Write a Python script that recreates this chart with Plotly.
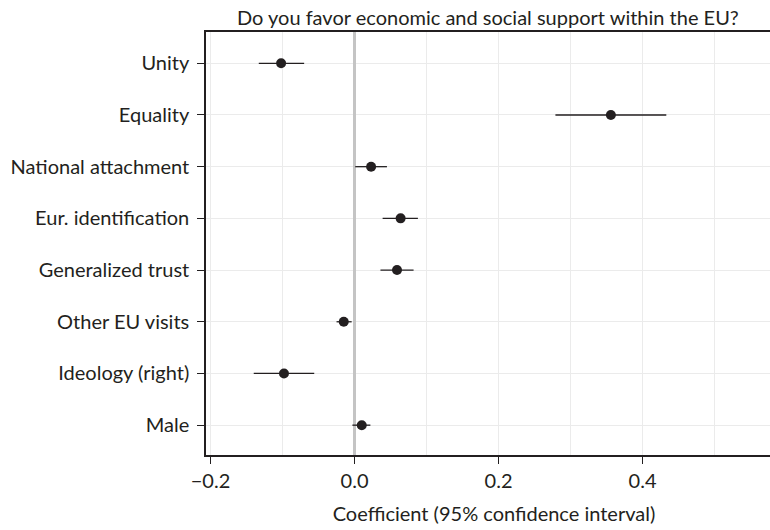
import plotly.graph_objects as go

categories = ["Unity", "Equality", "National attachment", "Eur. identification",
              "Generalized trust", "Other EU visits", "Ideology (right)", "Male"]
coef = [-0.102, 0.356, 0.023, 0.064, 0.059, -0.015, -0.098, 0.010]
ci_low = [-0.133, 0.279, 0.001, 0.039, 0.036, -0.025, -0.140, -0.003]
ci_high = [-0.070, 0.433, 0.045, 0.088, 0.082, -0.004, -0.056, 0.022]

x_ticks = [-0.2, 0.0, 0.2, 0.4]
x_tick_text = ["\u22120.2", "0.0", "0.2", "0.4"]

n = len(categories)
ypos = [n - 1 - i for i in range(n)]
err_plus = [h - c for h, c in zip(ci_high, coef)]
err_minus = [c - l for c, l in zip(coef, ci_low)]

ink = "#231f20"
FONT = "Lato"
FS = 20

fig = go.Figure()
fig.add_trace(go.Scatter(
    x=coef, y=ypos, mode="markers",
    marker=dict(size=10, color=ink),
    error_x=dict(type="data", symmetric=False, array=err_plus, arrayminus=err_minus,
                 color=ink, thickness=1.3, width=0),
    showlegend=False,
))

fig.update_layout(
    width=782, height=530,
    margin=dict(l=206, r=0, t=32, b=75),
    paper_bgcolor="white", plot_bgcolor="white",
    font=dict(family=FONT, size=FS, color=ink),
    xaxis=dict(
        range=[-0.2063, 0.5937],
        tickvals=x_ticks, ticktext=x_tick_text,
        ticks="outside", ticklen=7, tickwidth=1.3, tickcolor=ink,
        showgrid=True, gridcolor="#ebebeb", gridwidth=1,
        minor=dict(dtick=0.1, tick0=0, showgrid=True, gridcolor="#ebebeb", gridwidth=1),
        showline=True, linecolor=ink, linewidth=1.5, mirror=True,
        zeroline=True, zerolinecolor="#c4c4c4", zerolinewidth=3,
        automargin=False,
        title=dict(text="Coefficient (95% confidence interval)", standoff=16,
                   font=dict(family=FONT, size=FS, color=ink)),
        tickfont=dict(family=FONT, size=FS, color=ink),
    ),
    yaxis=dict(
        range=[-0.577, 7.605],
        tickvals=ypos, ticktext=categories,
        ticks="outside", ticklen=7, tickwidth=1.3, tickcolor=ink,
        ticklabelstandoff=4,
        showgrid=True, gridcolor="#ebebeb", gridwidth=1,
        showline=True, linecolor=ink, linewidth=1.5,
        zeroline=False, automargin=False,
        tickfont=dict(family=FONT, size=FS, color=ink),
    ),
    annotations=[dict(
        text="Do you favor economic and social support within the EU?",
        xref="x", yref="paper", x=0.186, y=1, xanchor="center", yanchor="bottom",
        yshift=1, showarrow=False, font=dict(family=FONT, size=FS, color=ink),
    )],
)

fig.write_html("out.html", config={"displayModeBar": False},
               post_script="document.body.style.margin='0';document.body.style.overflow='hidden';")
